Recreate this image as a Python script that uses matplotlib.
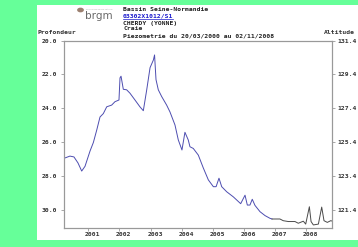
import matplotlib
matplotlib.use("Agg")
import matplotlib.pyplot as plt
from matplotlib.patches import Rectangle, Circle
from matplotlib.lines import Line2D
import datetime as dt

# ---------------- donnees ----------------
dates_valid = ['2000-03-20', '2000-05-29', '2000-07-15', '2000-08-31', '2000-10-14',
               '2000-11-22', '2001-01-20', '2001-02-28', '2001-04-09', '2001-05-17',
               '2001-06-25', '2001-08-04', '2001-10-01', '2001-11-09', '2001-12-26',
               '2002-01-07', '2002-01-19', '2002-02-15', '2002-03-26', '2002-05-04',
               '2002-07-02', '2002-08-29', '2002-10-08', '2002-11-17', '2002-12-26',
               '2003-02-03', '2003-02-17', '2003-03-06', '2003-04-02', '2003-05-12',
               '2003-07-09', '2003-08-17', '2003-10-15', '2003-11-23', '2004-01-05',
               '2004-02-09', '2004-03-19', '2004-04-08', '2004-05-17', '2004-07-15',
               '2004-09-12', '2004-11-10', '2005-01-08', '2005-02-09', '2005-03-15',
               '2005-04-16', '2005-06-14', '2005-08-31', '2005-11-25', '2006-01-15',
               '2006-02-11', '2006-03-14', '2006-04-10', '2006-05-12', '2006-07-10',
               '2006-09-07', '2006-11-04', '2006-11-28']
prof_valid = [26.93, 26.80, 26.85, 27.20, 27.68,
              27.40, 26.50, 26.00, 25.26, 24.50,
              24.30, 23.90, 23.80, 23.60, 23.50,
              22.20, 22.10, 22.87, 22.90, 23.10,
              23.50, 23.90, 24.13, 22.90, 21.60,
              21.15, 20.85, 22.30, 22.90, 23.30,
              23.80, 24.20, 24.97, 25.85, 26.44,
              25.40, 25.85, 26.25, 26.35, 26.74,
              27.50, 28.20, 28.60, 28.60, 28.10,
              28.60, 28.90, 29.20, 29.60, 29.10,
              29.68, 29.68, 29.34, 29.70, 30.07,
              30.30, 30.46, 30.50]

dates_brut = ['2006-11-28', '2007-03-01', '2007-04-09', '2007-06-08', '2007-08-25',
              '2007-10-03', '2007-12-01', '2007-12-29', '2008-02-10', '2008-03-01',
              '2008-03-28', '2008-05-26', '2008-07-04', '2008-07-31', '2008-09-08',
              '2008-10-18', '2008-11-02']
prof_brut = [30.50, 30.50, 30.60, 30.65, 30.65,
             30.75, 30.63, 30.80, 29.78, 30.65,
             30.85, 30.80, 29.80, 30.60, 30.70,
             30.60, 30.62]

annees = list(range(2001, 2009))
prof_ticks = [20.0, 22.0, 24.0, 26.0, 28.0, 30.0]
alt_ref = 151.4     # altitude = alt_ref - profondeur
titre = ["Bassin Seine-Normandie", "03302X1012/S1", "CHERDY (YONNE)", "Craie",
         "Piezometrie du 20/03/2000 au 02/11/2008"]

# ---------------- figure ----------------
W, H = 358, 247
fig = plt.figure(figsize=(W / 100, H / 100), dpi=100)
fig.patch.set_facecolor('#66ff99')
fig.add_artist(Rectangle((37 / W, 1 - 240 / H), (W - 37) / W, 235 / H,
                         transform=fig.transFigure, facecolor='white',
                         edgecolor='none', zorder=0))

mono = 'DejaVu Sans Mono'
fs = 4.6
gris = '#999999'

ax = fig.add_axes([64 / W, 1 - 228 / H, 268 / W, 187.5 / H])
ax.set_facecolor('white')

dv = [dt.datetime.strptime(d, '%Y-%m-%d') for d in dates_valid]
db = [dt.datetime.strptime(d, '%Y-%m-%d') for d in dates_brut]
ax.plot(dv, prof_valid, '-', color='#4d4db0', lw=0.7)
ax.plot(db, prof_brut, '-', color='#4a4a4a', lw=0.7)

ax.set_xlim(dt.datetime(2000, 3, 20), dt.datetime(2008, 11, 2))
ax.set_ylim(31.03, 20.0)
ax.set_yticks(prof_ticks)
ax.set_yticklabels(['%.1f' % v for v in prof_ticks], family=mono, fontsize=fs,
                   fontweight='bold', color='#333333')

ax.set_xticks([dt.datetime(a, 1, 1) for a in annees])
ax.set_xticklabels([])
ax.set_xticks([dt.datetime(a, 2, 22) for a in annees], minor=True)
ax.set_xticklabels([str(a) for a in annees], minor=True, family=mono,
                   fontsize=fs, fontweight='bold', color='#333333')
ax.tick_params(axis='x', which='minor', length=0, pad=3)
ax.tick_params(axis='both', which='major', length=2.5, width=0.6, color=gris,
               direction='out', pad=2)
ax.tick_params(axis='y', pad=2.5)

for s in ax.spines.values():
    s.set_color(gris)
    s.set_linewidth(0.8)

ax2 = ax.twinx()
ax2.set_ylim(alt_ref - 31.03, alt_ref - 20.0)
alt_ticks = [alt_ref - p for p in prof_ticks]
ax2.set_yticks(alt_ticks)
ax2.set_yticklabels(['%.1f' % v for v in alt_ticks], family=mono, fontsize=fs,
                    fontweight='bold', color='#333333')
ax2.tick_params(axis='y', length=2.5, width=0.6, color=gris, pad=1.5)
for s in ax2.spines.values():
    s.set_color(gris)
    s.set_linewidth(0.8)

# ---------------- textes ----------------
fig.text(38 / W, 1 - 33 / H, "Profondeur", family=mono, fontsize=fs,
         fontweight='bold', color='#333333', va='center', ha='left')
fig.text(355 / W, 1 - 32.5 / H, "Altitude", family=mono, fontsize=fs,
         fontweight='bold', color='#333333', va='center', ha='right')

ys = [9.5, 16.5, 23, 29, 35.5]
textes = []
for i, (t, y) in enumerate(zip(titre, ys)):
    c = '#1a1acc' if i == 1 else '#222222'
    textes.append(fig.text(123 / W, 1 - y / H, t, family=mono, fontsize=fs,
                           fontweight='bold', color=c, va='center', ha='left'))

# soulignement du code BSS
fig.canvas.draw()
bb = textes[1].get_window_extent()
fig.add_artist(Line2D([bb.x0 / W, bb.x1 / W], [(bb.y0 + 0.3) / H, (bb.y0 + 0.3) / H],
                      transform=fig.transFigure, color='#1a1acc', lw=0.5))

# logo brgm
fig.add_artist(Circle((80.5 / W, 1 - 10 / H), 3.4 / W, transform=fig.transFigure,
                      facecolor='#9c8070', edgecolor='none'))
fig.text(85.5 / W, 1 - 16 / H, "brgm", family='Liberation Sans Narrow', fontsize=7.5,
         color='#6a6a6a', va='center', ha='left')
fig.text(86 / W, 1 - 9.5 / H, "Service geologique national", family='DejaVu Sans',
         fontsize=1.4, color='#aaaaaa', va='center', ha='left')

fig.savefig('out.png', dpi=100, facecolor=fig.get_facecolor())
